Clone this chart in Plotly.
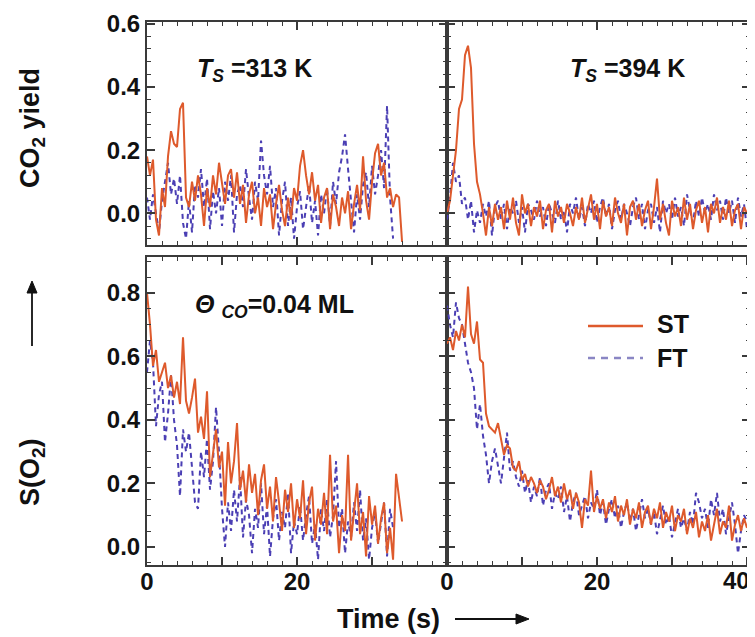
import numpy as np
import plotly.graph_objects as go
from plotly.subplots import make_subplots

DT = 0.4  # sampling step (s)

# Top-left: CO2 yield, Ts = 313 K
co2_313_st = [0.18, 0.12, 0.17, -0.02, -0.07, 0.08, 0.02, 0.18, 0.26, 0.22, 0.21, 0.33, 0.35, 0.05, 0.02, 0.10,
              0.04, 0.12, 0.06, -0.04, 0.08, 0.02, 0.12, 0.06, 0.16, 0.10, 0.03, 0.12, 0.14, 0.05, 0.13, 0.03,
              0.09, -0.03, 0.06, 0.10, 0.00, 0.05, -0.04, 0.08, 0.02, 0.06, -0.05, 0.03, 0.09, 0.01, -0.04, 0.05,
              -0.02, 0.08, 0.04, 0.15, 0.20, 0.12, 0.06, 0.13, 0.04, 0.09, -0.03, 0.05, 0.08, -0.05, 0.06, 0.02,
              -0.04, 0.05, 0.00, 0.07, -0.05, 0.03, 0.09, 0.01, 0.18, 0.04, -0.02, 0.10, 0.19, 0.22, 0.12, 0.16,
              0.05, 0.08, 0.02, 0.06, 0.05, -0.09]
co2_313_ft = [0.05, -0.02, 0.06, 0.00, -0.06, 0.04, 0.10, 0.16, 0.06, 0.11, 0.03, 0.12, -0.03, -0.08, 0.04, -0.06,
              0.09, 0.05, 0.14, 0.02, 0.11, -0.05, 0.07, 0.00, 0.08, -0.04, 0.10, 0.04, 0.12, -0.06, 0.06, 0.09,
              0.02, 0.14, 0.05, -0.02, 0.10, 0.04, 0.23, 0.12, 0.06, 0.15, 0.02, 0.08, -0.07, 0.04, 0.10, -0.04,
              0.05, -0.08, 0.02, 0.07, -0.05, 0.03, 0.09, -0.03, 0.04, -0.07, 0.06, 0.00, 0.08, -0.04, 0.10, 0.03,
              0.13, 0.18, 0.25, 0.14, 0.04, -0.06, 0.06, -0.02, 0.09, 0.13, 0.02, 0.15, 0.06, 0.12, 0.20, 0.08,
              0.34, 0.05, -0.08]

# Top-right: CO2 yield, Ts = 394 K
co2_394_st = [0.00, 0.04, 0.12, 0.20, 0.33, 0.36, 0.50, 0.53, 0.46, 0.22, 0.10, 0.06, 0.00, -0.07, 0.02, -0.04,
              0.03, -0.02, 0.02, -0.05, 0.04, -0.02, 0.05, -0.03, -0.07, 0.06, 0.00, 0.03, -0.04, 0.02, -0.01, 0.04,
              -0.05, 0.01, 0.03, -0.06, 0.04, -0.01, 0.02, -0.03, 0.03, 0.00, -0.04, 0.02, -0.02, 0.05, -0.03, 0.01,
              0.06, -0.02, 0.03, -0.05, 0.04, -0.01, 0.02, -0.04, 0.05, 0.00, -0.03, 0.03, -0.07, 0.02, 0.04, -0.02,
              0.03, -0.04, 0.01, 0.04, -0.05, 0.02, 0.11, -0.02, 0.03, -0.03, -0.07, 0.04, -0.01, 0.02, -0.04, 0.05,
              -0.02, 0.03, -0.05, 0.01, 0.04, -0.03, 0.02, -0.06, 0.03, 0.00, 0.05, -0.03, 0.02, -0.02, 0.04, -0.04,
              0.01, 0.03, -0.05, 0.02, 0.00]
co2_394_ft = [-0.02, 0.05, 0.16, 0.10, 0.12, 0.03, 0.05, -0.02, 0.04, -0.06, 0.01, -0.03, 0.03, -0.01, 0.04, -0.07,
              0.02, 0.04, -0.02, 0.03, -0.05, 0.02, 0.00, 0.04, -0.03, 0.02, -0.06, 0.03, 0.01, -0.02, 0.04, -0.01,
              0.02, -0.04, 0.03, 0.00, -0.03, 0.04, -0.02, 0.01, -0.06, 0.03, 0.00, 0.05, -0.02, 0.02, -0.04, 0.03,
              0.00, 0.04, -0.03, 0.02, 0.05, -0.01, 0.03, -0.05, 0.01, 0.04, -0.02, 0.03, 0.00, -0.04, 0.02, 0.05,
              -0.02, 0.03, -0.05, 0.01, 0.03, -0.03, 0.02, -0.06, 0.04, 0.00, 0.03, -0.02, 0.05, -0.01, 0.02, -0.04,
              0.06, 0.01, -0.03, 0.04, -0.01, 0.05, 0.00, 0.03, -0.02, 0.06, 0.01, 0.04, -0.02, 0.05, 0.00, 0.04,
              -0.03, 0.05, -0.01, 0.03, -0.05]

# Bottom-left: S(O2), Ts = 313 K
s_313_st = [0.80, 0.70, 0.57, 0.62, 0.52, 0.55, 0.58, 0.50, 0.54, 0.47, 0.52, 0.45, 0.66, 0.46, 0.42, 0.47,
            0.53, 0.36, 0.41, 0.34, 0.49, 0.22, 0.30, 0.37, 0.25, 0.30, 0.13, 0.33, 0.20, 0.27, 0.39, 0.18,
            0.24, 0.14, 0.26, 0.17, 0.23, 0.10, 0.21, 0.26, 0.12, 0.19, 0.08, 0.22, 0.14, 0.05, 0.18, 0.11,
            0.20, 0.06, 0.15, 0.09, 0.21, 0.04, 0.14, 0.19, 0.02, 0.12, 0.07, 0.17, 0.04, 0.29, 0.08, 0.13,
            -0.02, 0.10, 0.05, 0.29, 0.02, 0.12, 0.20, 0.04, 0.11, -0.03, 0.16, 0.07, 0.13, 0.01, 0.09, 0.14,
            -0.02, 0.06, -0.04, 0.23, 0.15, 0.08]
s_313_ft = [0.55, 0.65, 0.58, 0.38, 0.48, 0.52, 0.33, 0.42, 0.54, 0.40, 0.32, 0.16, 0.37, 0.30, 0.36, 0.25,
            0.14, 0.12, 0.30, 0.22, 0.34, 0.18, 0.27, 0.44, 0.30, 0.12, 0.00, 0.14, 0.05, 0.18, 0.08, 0.22,
            0.03, 0.15, 0.10, -0.02, 0.12, 0.06, 0.20, 0.04, 0.13, -0.03, 0.09, 0.15, 0.02, 0.11, 0.06, 0.17,
            -0.02, 0.08, 0.04, 0.13, 0.02, 0.10, 0.16, 0.01, 0.07, -0.04, 0.12, 0.05, 0.15, 0.03, 0.10, 0.27,
            0.06, 0.12, -0.02, 0.08, 0.03, 0.14, 0.05, 0.18, 0.02, 0.09, -0.04, 0.06, 0.11, 0.01, 0.07, 0.14,
            -0.03, 0.12, 0.06]

# Bottom-right: S(O2), Ts = 394 K
s_394_st = [0.64, 0.66, 0.62, 0.68, 0.65, 0.70, 0.66, 0.82, 0.67, 0.64, 0.71, 0.59, 0.58, 0.42, 0.38, 0.37,
            0.36, 0.39, 0.34, 0.29, 0.32, 0.31, 0.25, 0.24, 0.27, 0.21, 0.23, 0.19, 0.22, 0.20, 0.17, 0.21,
            0.19, 0.15, 0.18, 0.22, 0.16, 0.19, 0.14, 0.20, 0.15, 0.18, 0.12, 0.17, 0.14, 0.06, 0.15, 0.13,
            0.24, 0.11, 0.16, 0.12, 0.15, 0.09, 0.14, 0.11, 0.16, 0.08, 0.13, 0.10, 0.15, 0.07, 0.12, 0.09,
            0.14, 0.06, 0.11, 0.13, 0.07, 0.12, 0.09, 0.14, 0.06, 0.11, 0.08, 0.13, 0.05, 0.10, 0.08, 0.12,
            0.04, 0.09, 0.06, 0.11, 0.03, 0.08, 0.05, 0.10, 0.02, 0.07, 0.12, 0.04, 0.08, 0.06, 0.13, 0.02,
            0.07, 0.10, 0.05, 0.09, 0.06]
s_394_ft = [0.76, 0.70, 0.66, 0.77, 0.72, 0.70, 0.64, 0.58, 0.55, 0.50, 0.37, 0.45, 0.35, 0.29, 0.20, 0.27,
            0.31, 0.25, 0.20, 0.28, 0.36, 0.24, 0.27, 0.22, 0.19, 0.24, 0.17, 0.21, 0.14, 0.19, 0.16, 0.22,
            0.13, 0.18, 0.20, 0.12, 0.17, 0.15, 0.19, 0.11, 0.16, 0.08, 0.14, 0.17, 0.10, 0.13, 0.16, 0.09,
            0.14, 0.12, 0.18, 0.10, 0.14, 0.07, 0.12, 0.15, 0.09, 0.13, 0.06, 0.11, 0.14, 0.08, 0.12, 0.05,
            0.10, 0.15, 0.09, 0.12, 0.07, 0.11, 0.04, 0.09, 0.13, 0.07, 0.10, 0.03, 0.08, 0.12, 0.06, 0.09,
            0.05, 0.11, 0.07, 0.17, 0.14, 0.09, 0.12, 0.06, 0.15, 0.10, 0.17, 0.08, 0.12, 0.04, 0.09, 0.14,
            0.07, -0.02, 0.05, 0.10, 0.08]

x_major = [0, 10, 20, 30, 40]
x_labels_left = ["0", "", "20", "", ""]
x_labels_right = ["0", "", "20", "", ""]   # "40" is placed separately so it stays inside the page
x_last_label = "40"

ST_COLOR = "#de5a2c"
FT_COLOR = "#4b3fb4"
AX_COLOR = "#3a3a3a"
INK = "#111111"
FONT = "Liberation Sans"

W, H = 755, 637
OFF = 8  # the page body margin shifts the figure by this many pixels
# plot-area edges as seen in the reference picture
LEFT, RIGHT, TOP, BOTTOM = 147, 750, 22, 565
ML, MT = LEFT - OFF, TOP - OFF
MR, MB = W - (RIGHT - OFF), H - (BOTTOM - OFF)
PW, PH = RIGHT - LEFT, BOTTOM - TOP


def px(xp):
    return (xp - LEFT) / PW


def py(yp):
    return (BOTTOM - yp) / PH


fig = make_subplots(rows=2, cols=2, horizontal_spacing=0, vertical_spacing=12 / PH,
                    row_heights=[223, 308], column_widths=[300, 303])


def t_of(vals):
    return np.arange(len(vals)) * DT


panels = [
    (1, 1, co2_313_st, co2_313_ft),
    (1, 2, co2_394_st, co2_394_ft),
    (2, 1, s_313_st, s_313_ft),
    (2, 2, s_394_st, s_394_ft),
]
for r, c, st, ft in panels:
    fig.add_trace(go.Scatter(x=t_of(ft), y=ft, mode="lines", name="FT", showlegend=False,
                             line=dict(color=FT_COLOR, width=2, dash="5px,4px")), row=r, col=c)
    fig.add_trace(go.Scatter(x=t_of(st), y=st, mode="lines", name="ST", showlegend=False,
                             line=dict(color=ST_COLOR, width=2)), row=r, col=c)

tickfont = dict(family=FONT, size=24, color=INK, weight="bold")
common = dict(showline=True, linecolor=AX_COLOR, linewidth=2, mirror="allticks", ticks="inside",
              ticklen=8, tickwidth=1.6, tickcolor=AX_COLOR, showgrid=False, zeroline=False,
              tickfont=tickfont, automargin=False)

for r in (1, 2):
    for c in (1, 2):
        fig.update_xaxes(row=r, col=c, range=[0, 39.99] if c == 1 else [0, 40.4],
                         tickmode="array", tickvals=x_major,
                         ticktext=x_labels_left if c == 1 else x_labels_right,
                         showticklabels=(r == 2), ticklabelstandoff=-6,
                         minor=dict(dtick=2, tick0=0, ticks="inside", ticklen=4, tickwidth=1.4,
                                    tickcolor=AX_COLOR, showgrid=False),
                         **common)
        if r == 1:
            fig.update_yaxes(row=r, col=c, range=[-0.1, 0.605], tickmode="linear", tick0=0, dtick=0.2,
                             tickformat=".1f", showticklabels=(c == 1),
                             minor=dict(dtick=0.04, tick0=0, ticks="inside", ticklen=4, tickwidth=1.4,
                                        tickcolor=AX_COLOR, showgrid=False),
                             **common)
        else:
            fig.update_yaxes(row=r, col=c, range=[-0.057, 0.913], tickmode="linear", tick0=0, dtick=0.2,
                             tickformat=".1f", showticklabels=(c == 1),
                             minor=dict(dtick=0.05, tick0=0, ticks="inside", ticklen=4, tickwidth=1.4,
                                        tickcolor=AX_COLOR, showgrid=False),
                             **common)

# last x tick label of the bottom-right panel, kept inside the visible page
fig.add_annotation(xref="paper", yref="paper", x=px(752), y=py(580), text=x_last_label,
                   showarrow=False, font=tickfont, xanchor="right", yanchor="middle")

ann_font = dict(family=FONT, size=25, color=INK, weight="bold")
lab_font = dict(family=FONT, size=27, color=INK, weight="bold")
annotations = [
    dict(x=px(195), y=py(70), text="<i>T</i><sub><i>S</i></sub> =313 K"),
    dict(x=px(568), y=py(70), text="<i>T</i><sub><i>S</i></sub> =394 K"),
    dict(x=px(193), y=py(306), text="<i>Θ</i> <sub><i>CO</i></sub>=0.04 ML"),
    dict(x=px(655), y=py(324), text="ST"),
    dict(x=px(655), y=py(358), text="FT"),
]
for a in annotations:
    fig.add_annotation(xref="paper", yref="paper", xanchor="left", yanchor="middle",
                       showarrow=False, font=ann_font, **a)

# axis titles
fig.add_annotation(xref="paper", yref="paper", x=px(32), y=py(128), text="CO<sub>2</sub> yield",
                   textangle=-90, showarrow=False, font=lab_font, xanchor="center", yanchor="middle")
fig.add_annotation(xref="paper", yref="paper", x=px(32), y=py(472), text="S(O<sub>2</sub>)",
                   textangle=-90, showarrow=False, font=lab_font, xanchor="center", yanchor="middle")
fig.add_annotation(xref="paper", yref="paper", x=px(388), y=py(619), text="Time (s)",
                   showarrow=False, font=lab_font, xanchor="center", yanchor="middle")

# arrows next to the axis titles (drawn as shapes)
fig.add_shape(type="line", xref="paper", yref="paper", x0=px(32), x1=px(32), y0=py(346), y1=py(292),
              line=dict(color=INK, width=1.8))
fig.add_shape(type="path", xref="paper", yref="paper",
              path=f"M {px(27)},{py(293)} L {px(37)},{py(293)} L {px(32)},{py(281)} Z",
              fillcolor=INK, line=dict(color=INK, width=1))
fig.add_shape(type="line", xref="paper", yref="paper", x0=px(455), x1=px(517), y0=py(619), y1=py(619),
              line=dict(color=INK, width=1.8))
fig.add_shape(type="path", xref="paper", yref="paper",
              path=f"M {px(516)},{py(614)} L {px(516)},{py(624)} L {px(529)},{py(619)} Z",
              fillcolor=INK, line=dict(color=INK, width=1))

# legend samples
fig.add_shape(type="line", xref="paper", yref="paper", x0=px(588), x1=px(643), y0=py(326), y1=py(326),
              line=dict(color=ST_COLOR, width=2.5))
fig.add_shape(type="line", xref="paper", yref="paper", x0=px(588), x1=px(643), y0=py(358), y1=py(358),
              line=dict(color="#8a86c4", width=2.5, dash="7px,6px"))

fig.update_layout(width=W, height=H, margin=dict(l=ML, r=MR, t=MT, b=MB, autoexpand=False),
                  paper_bgcolor="white", plot_bgcolor="white", showlegend=False,
                  font=dict(family=FONT, color=INK))

fig.write_html("out.html")
